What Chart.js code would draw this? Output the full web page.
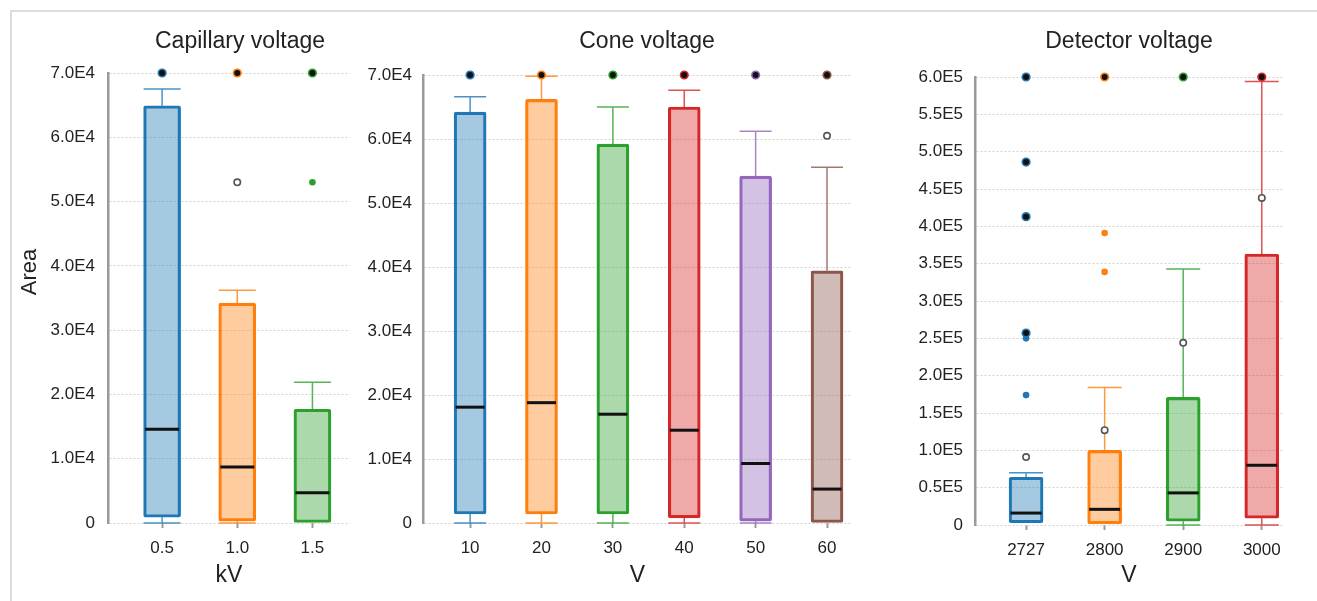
<!DOCTYPE html>
<html>
<head>
<meta charset="utf-8">
<script src="https://cdn.jsdelivr.net/npm/chart.js@4.4.1/dist/chart.umd.min.js"></script>
<style>
  html, body { margin: 0; padding: 0; background: #fff; overflow: hidden; }
  #frame { position: absolute; left: 10px; top: 10px; width: 1320px; height: 600px;
           border-top: 2px solid #dcdcdc; border-left: 2px solid #dcdcdc; }
  canvas { position: absolute; top: 0; }
</style>
</head>
<body>
<div id="frame"></div>
<canvas id="cap" width="480" height="601" style="left:0px"></canvas>
<canvas id="cone" width="594" height="601" style="left:350px"></canvas>
<canvas id="det" width="402" height="601" style="left:915px"></canvas>
<script>
// tab10 style colours
const tab = ["#1f77b4", "#ff7f0e", "#2ca02c", "#d62728", "#9467bd", "#8c564b"];

// Capillary voltage (kV)
const capLabels = ["0.5", "1.0", "1.5"];
const capQ1   = [900, 300, 0];
const capMed  = [14600, 8700, 4700];
const capQ3   = [64900, 34200, 17700];
const capLow  = [0, 0, 0];
const capHigh = [67500, 36200, 21900];
const capRing = [[70000], [70000], [70000]];
const capDots = [[], [], [53000]];
const capOpen = [[], [53000], []];

// Cone voltage (V)
const coneLabels = ["10", "20", "30", "40", "50", "60"];
const coneQ1   = [1400, 1400, 1400, 800, 300, 0];
const coneMed  = [18100, 18800, 17000, 14500, 9300, 5300];
const coneQ3   = [64200, 66200, 59200, 65000, 54200, 39400];
const coneLow  = [0, 0, 0, 0, 0, 0];
const coneHigh = [66600, 69800, 65000, 67600, 61200, 55600];
const coneRing = [[70000], [70000], [70000], [70000], [70000], [70000]];
const coneDots = [[], [], [], [], [], []];
const coneOpen = [[], [], [], [], [], [60500]];

// Detector voltage (V)
const detLabels = ["2727", "2800", "2900", "3000"];
const detQ1   = [3000, 1500, 5000, 9000];
const detMed  = [16000, 21000, 43000, 80000];
const detQ3   = [64000, 100000, 171000, 363000];
const detLow  = [3000, 1500, 0, 0];
const detHigh = [70000, 184000, 343000, 594000];
const detRing = [[600000, 486000, 413000, 257000], [600000], [600000], [600000]];
const detDots = [[250000, 174000], [391000, 339000], [], []];
const detOpen = [[91000], [127000], [244000], [438000]];

const FONT = "'Liberation Sans', Arial, sans-serif";
const TXT = "#222";

function fade(hex, a) {
    const n = parseInt(hex.slice(1), 16);
    return `rgba(${n >> 16}, ${(n >> 8) & 255}, ${n & 255}, ${a})`;
}

function points(groups) {
    return groups.flatMap((vals, i) => vals.map(v => ({x: i, y: v})));
}

// whiskers + medians, drawn right after the boxes
function whiskers(p) {
    return {
        id: "whiskers",
        afterDatasetDraw(chart, args) {
            if (args.index !== 0) return;
            const ctx = chart.ctx;
            const y = chart.scales.y;
            chart.getDatasetMeta(0).data.forEach((el, i) => {
                const x = el.x, h = el.width / 2;
                const col = p.colors[i];
                ctx.save();
                ctx.strokeStyle = fade(col, 0.8);
                ctx.lineWidth = 1.5;
                const pairs = [[p.q3[i], p.high[i]], [p.q1[i], p.low[i]]];
                pairs.forEach(([from, to]) => {
                    if (from === to) return;
                    const y1 = y.getPixelForValue(from), y2 = y.getPixelForValue(to);
                    ctx.beginPath();
                    ctx.moveTo(x, y1); ctx.lineTo(x, y2);
                    ctx.moveTo(x - h, y2); ctx.lineTo(x + h, y2);
                    ctx.stroke();
                });
                const ym = y.getPixelForValue(p.med[i]);
                ctx.strokeStyle = "#111";
                ctx.lineWidth = 3;
                ctx.beginPath();
                ctx.moveTo(x - h + 1.5, ym); ctx.lineTo(x + h - 1.5, ym);
                ctx.stroke();
                ctx.restore();
            });
        }
    };
}

const areaLabel = {
    id: "areaLabel",
    afterDraw(chart) {
        const ctx = chart.ctx;
        ctx.save();
        ctx.translate(30, 272);
        ctx.rotate(-Math.PI / 2);
        ctx.font = "22px " + FONT;
        ctx.fillStyle = TXT;
        ctx.textAlign = "center";
        ctx.textBaseline = "middle";
        ctx.fillText("Area", 0, 0);
        ctx.restore();
    }
};

function boxPanel(id, p) {
    const colorOf = ctx => ctx.raw ? p.colors[ctx.raw.x] : "#000";
    return new Chart(document.getElementById(id), {
        type: "bar",
        data: {
            datasets: [
                {
                    type: "bar", order: 2,
                    data: p.q1.map((q, i) => ({x: i, y: [q, p.q3[i]]})),
                    backgroundColor: p.colors.map(c => fade(c, 0.4)),
                    borderColor: p.colors,
                    borderWidth: 2.5,
                    borderSkipped: false,
                    borderRadius: 2,
                    barThickness: p.barW
                },
                {
                    type: "scatter", order: 0, clip: false,
                    data: points(p.ring),
                    pointRadius: 3.8, pointBorderWidth: 1.6,
                    pointBackgroundColor: "#111", pointBorderColor: colorOf
                },
                {
                    type: "scatter", order: 0, clip: false,
                    data: points(p.dots),
                    pointRadius: 3.3, pointBorderWidth: 0,
                    pointBackgroundColor: colorOf, pointBorderColor: colorOf
                },
                {
                    type: "scatter", order: 0, clip: false,
                    data: points(p.open),
                    pointRadius: 3.2, pointBorderWidth: 1.6,
                    pointBackgroundColor: "#fff", pointBorderColor: "#555"
                }
            ]
        },
        options: {
            responsive: false,
            animation: false,
            events: [],
            layout: { padding: 0 },
            plugins: {
                legend: { display: false },
                tooltip: { enabled: false },
                title: {
                    display: true,
                    text: p.title,
                    color: TXT,
                    fullSize: p.fullTitle,
                    font: { family: FONT, size: 23, weight: "normal" },
                    padding: { top: 28, bottom: p.titleGap }
                }
            },
            scales: {
                x: {
                    type: "linear",
                    min: p.xMin, max: p.xMax,
                    offset: false,
                    afterBuildTicks: s => { s.ticks = p.labels.map((_, i) => ({value: i})); },
                    afterFit: s => { s.height = p.xH; },
                    ticks: {
                        callback: v => p.labels[v],
                        color: TXT,
                        font: { family: FONT, size: 17 },
                        padding: 10,
                        maxRotation: 0
                    },
                    grid: {
                        offset: false,
                        drawOnChartArea: false,
                        drawTicks: true,
                        tickLength: 5,
                        tickColor: "#9a9a9a",
                        tickWidth: 2
                    },
                    border: { display: false },
                    title: {
                        display: true,
                        text: p.xTitle,
                        color: TXT,
                        font: { family: FONT, size: 23 },
                        padding: { top: 0, bottom: 12 }
                    }
                },
                y: {
                    min: 0, max: p.yMax,
                    afterFit: s => { s.width = p.yW; },
                    ticks: {
                        stepSize: p.yStep,
                        callback: p.fmt,
                        color: TXT,
                        font: { family: FONT, size: 17 },
                        padding: p.yPad
                    },
                    grid: { color: "#d2d2d2", lineWidth: 1, drawTicks: false },
                    border: { display: true, color: "#9a9a9a", width: 2.5, dash: [2, 2] }
                },
                // empty right-hand box, keeps room for the neighbouring panel
                yr: {
                    position: "right",
                    display: true,
                    afterFit: s => { s.width = p.padRight; },
                    ticks: { display: false },
                    grid: { display: false },
                    border: { display: false }
                }
            }
        },
        plugins: p.extra ? [whiskers(p), p.extra] : [whiskers(p)]
    });
}

const fmtE4 = v => v === 0 ? "0" : (v / 1e4).toFixed(1) + "E4";
const fmtE5 = v => v === 0 ? "0" : (v / 1e5).toFixed(1) + "E5";

boxPanel("cap", {
    title: "Capillary voltage", xTitle: "kV",
    labels: capLabels, q1: capQ1, med: capMed, q3: capQ3, low: capLow, high: capHigh,
    ring: capRing, dots: capDots, open: capOpen,
    colors: tab.slice(0, 3),
    yMax: 70000, yStep: 10000, fmt: fmtE4,
    xMin: -0.72, xMax: 2.5, barW: 37,
    padRight: 130, yW: 108, yPad: 13, titleGap: 17.4, xH: 78,
    fullTitle: true, extra: areaLabel
});

boxPanel("cone", {
    title: "Cone voltage", xTitle: "V",
    labels: coneLabels, q1: coneQ1, med: coneMed, q3: coneQ3, low: coneLow, high: coneHigh,
    ring: coneRing, dots: coneDots, open: coneOpen,
    colors: tab.slice(0, 6),
    yMax: 70000, yStep: 10000, fmt: fmtE4,
    xMin: -0.66, xMax: 5.35, barW: 32,
    padRight: 92, yW: 73, yPad: 11, titleGap: 19.4, xH: 78,
    fullTitle: true
});

boxPanel("det", {
    title: "Detector voltage", xTitle: "V",
    labels: detLabels, q1: detQ1, med: detMed, q3: detQ3, low: detLow, high: detHigh,
    ring: detRing, dots: detDots, open: detOpen,
    colors: tab.slice(0, 4),
    yMax: 600000, yStep: 50000, fmt: fmtE5,
    xMin: -0.65, xMax: 3.27, barW: 34,
    padRight: 34, yW: 60, yPad: 12, titleGap: 21.4, xH: 76,
    fullTitle: false
});
</script>
</body>
</html>
